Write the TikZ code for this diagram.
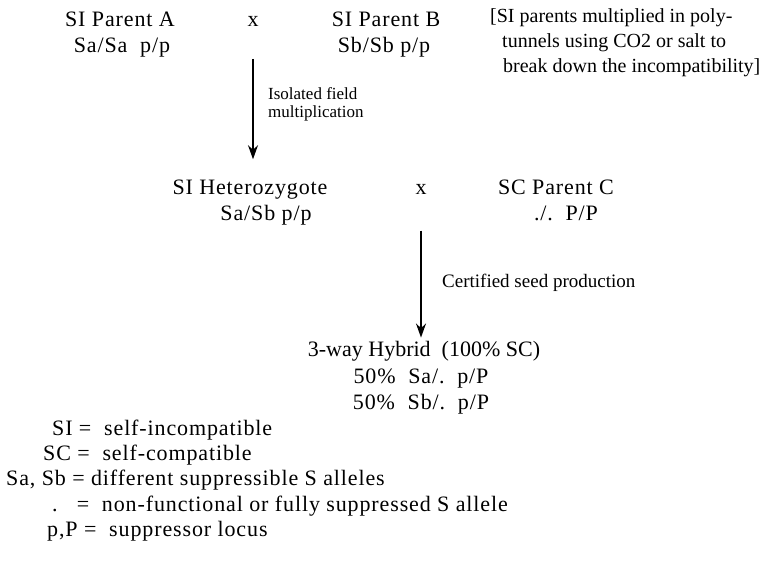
\documentclass[tikz,border=0pt]{standalone}
\usepackage{fontspec}
\setmainfont{Liberation Serif}
\newfontfamily\spacedfont[LetterSpace=4]{Liberation Serif}
\usetikzlibrary{arrows.meta}
\tikzset{
  gen/.style={font=\spacedfont\fontsize{22}{25}\selectfont, inner sep=0pt, anchor=base},
  hybrid/.style={font=\fontsize{22}{25}\selectfont, inner sep=0pt, anchor=base},
  note/.style={font=\fontsize{20}{25}\selectfont, inner sep=0pt, align=left, anchor=west},
  step label/.style={font=\fontsize{17}{18}\selectfont, inner sep=0pt, align=left, anchor=west},
  key/.style={font=\spacedfont\fontsize{22}{25}\selectfont, inner sep=0pt, anchor=base west},
  cross/.style={-{Stealth[length=14pt,width=10pt]}, line width=1.4pt}
}
\begin{document}
\begin{tikzpicture}[x=1pt,y=-1pt]
\useasboundingbox (0,0) rectangle (777,573);
% first cross
\node[gen] (parA) at (120,26) {SI Parent A};
\node[gen] (genA) at (122,52) {Sa/Sa~~p/p};
\node[gen] (xAB) at (253,26) {x};
\node[gen] (parB) at (386,26) {SI Parent B};
\node[gen] (genB) at (384,52) {Sb/Sb p/p};
\node[note] (multi) at (490,43) {[SI parents multiplied in poly-\\
  \hspace*{12pt}tunnels using CO2 or salt to\\
  \hspace*{13pt}break down the incompatibility]};
% second cross
\node[gen] (het) at (250,194) {SI Heterozygote};
\node[gen] (genH) at (266,220) {Sa/Sb p/p};
\node[gen] (xHC) at (421,194) {x};
\node[gen] (parC) at (556,194) {SC Parent C};
\node[gen] (genC) at (566,220) {./.~~P/P};
% hybrid
\node[hybrid] (hyb) at (424,356) {3-way Hybrid~~(100\% SC)};
\node[gen] (hybA) at (421,383) {50\%~~Sa/.~~p/P};
\node[gen] (hybB) at (421,409) {50\%~~Sb/.~~p/P};
% arrows
\draw[cross, shorten <=2pt, shorten >=20pt] (xAB |- genA.south) -- (xAB |- het.north);
\node[step label] at (268,104) {Isolated field\\multiplication};
\draw[cross, shorten <=10pt, shorten >=3pt] (xHC |- genC.south) -- (xHC |- hyb.north);
\node[step label, font=\fontsize{19}{20}\selectfont] at (442,283) {Certified seed production};
% legend
\node[key] (kSI) at (52,435) {SI =~~self-incompatible};
\node[key] (kSC) at (43,460) {SC =~~self-compatible};
\node[key] (kS) at (6,485) {Sa, Sb = different suppressible S alleles};
\node[key] (kdot) at (52,511) {.~~~=~~non-functional or fully suppressed S allele};
\node[key] (kP) at (47,536) {p,P =~~suppressor locus};
\end{tikzpicture}
\end{document}
